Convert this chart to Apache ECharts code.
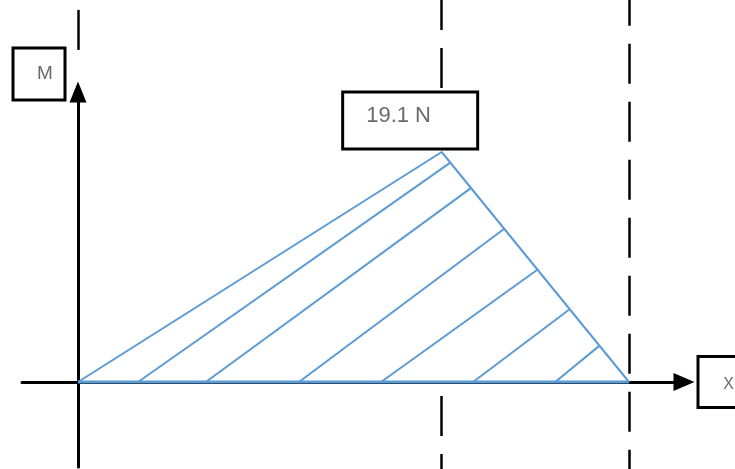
<!DOCTYPE html>
<html>
<head>
<meta charset="utf-8">
<script src="https://cdn.jsdelivr.net/npm/echarts@6/dist/echarts.min.js"></script>
<style>
  html, body { margin: 0; padding: 0; background: #fff; }
  #chart { width: 735px; height: 469px; }
</style>
</head>
<body>
<div id="chart"></div>
<script>
// moment diagram: span 0..10, peak under the middle support
var momentX = [0, 6.6, 10];
var momentY = [0, 19.1, 0];
var peakLabel = '19.1 N';
var axisNameY = 'M';
var axisNameX = 'X';

// hatch strokes: from the baseline up to the right-hand edge
var hatchStartX = [1.09, 2.32, 4.01, 5.50, 7.17, 8.66];
var hatchEndX = [6.75, 7.13, 7.73, 8.33, 8.91, 9.46];
var hatchEndY = [18.2, 16.1, 12.7, 9.3, 6.0, 3.0];

// dashed support lines
var guideX = [0, 6.6, 10];
var guideTop = [30.9, 32.55, 32.9];
var guideBottom = [27.4, -7.3, -7.3];

(function() {
  var blue = '#5b9bd5';
  var ink = '#000000';
  var textGray = '#6a6a6a';
  var font = 'Liberation Sans, Arial, sans-serif';

  var triangle = momentX.map(function(x, i) { return [x, momentY[i]]; });
  var baseline = [[momentX[0], 0], [momentX[momentX.length - 1], 0]];
  var hatch = hatchStartX.map(function(x, i) {
    return { coords: [[x, 0], [hatchEndX[i], hatchEndY[i]]] };
  });
  var guides = guideX.map(function(x, i) {
    return { coords: [[x, guideTop[i]], [x, guideBottom[i]]] };
  });
  var peakIndex = momentY.indexOf(Math.max.apply(null, momentY));

  var chart = echarts.init(document.getElementById('chart'), null, { renderer: 'canvas' });
  chart.setOption({
    animation: false,
    backgroundColor: '#fff',
    grid: { left: 22, right: 51, top: 92, bottom: 2, outerBoundsMode: 'none' },
    xAxis: {
      type: 'value',
      min: -1.0163,
      max: 10.998,
      name: '{b|' + axisNameX + '}',
      nameLocation: 'end',
      nameGap: 15.5,
      nameTextStyle: {
        align: 'left',
        verticalAlign: 'middle',
        rich: {
          b: {
            width: 58, height: 43, lineHeight: 43, align: 'center',
            padding: [5, 0, 0, 0],
            backgroundColor: '#fff', borderColor: ink, borderWidth: 3,
            fontSize: 16, color: textGray, fontFamily: font
          }
        }
      },
      axisLine: {
        onZero: true,
        symbol: ['none', 'triangle'],
        symbolSize: [18, 21],
        lineStyle: { color: ink, width: 3 }
      },
      axisTick: { show: false },
      axisLabel: { show: false },
      splitLine: { show: false }
    },
    yAxis: {
      type: 'value',
      min: -7.059,
      max: 24.083,
      name: '{b|' + axisNameY + '}{s| }',
      nameLocation: 'end',
      nameGap: 18,
      nameTextStyle: {
        align: 'right',
        verticalAlign: 'middle',
        rich: {
          b: {
            width: 37, height: 49, lineHeight: 49, align: 'center',
            padding: [0, 0, 0, 12],
            backgroundColor: '#fff', borderColor: ink, borderWidth: 3,
            fontSize: 19, color: textGray, fontFamily: font
          },
          s: { width: 14.5, fontSize: 10 }
        }
      },
      axisLine: {
        onZero: true,
        symbol: ['none', 'triangle'],
        symbolSize: [17, 21],
        lineStyle: { color: ink, width: 3 }
      },
      axisTick: { show: false },
      axisLabel: { show: false },
      splitLine: { show: false }
    },
    series: [
      {
        name: 'supports',
        type: 'lines',
        coordinateSystem: 'cartesian2d',
        clip: false,
        z: 1,
        lineStyle: { color: ink, width: 2.5, type: [40, 18], opacity: 1 },
        data: guides
      },
      {
        name: 'moment',
        type: 'line',
        z: 2,
        clip: false,
        symbol: 'none',
        lineStyle: { color: blue, width: 2 },
        areaStyle: { color: '#fff', opacity: 1 },
        data: triangle,
        markPoint: {
          symbol: 'rect',
          symbolSize: 0,
          data: [{ coord: triangle[peakIndex], value: peakLabel }],
          label: {
            show: true,
            formatter: peakLabel,
            position: 'inside',
            align: 'left',
            verticalAlign: 'top',
            offset: [-97.5, -58.5],
            width: 110,
            height: 22,
            lineHeight: 22,
            padding: [11, 0, 21, 22],
            backgroundColor: '#fff',
            borderColor: ink,
            borderWidth: 3,
            fontSize: 22,
            color: textGray,
            fontFamily: font
          }
        }
      },
      {
        name: 'hatch',
        type: 'lines',
        coordinateSystem: 'cartesian2d',
        z: 3,
        lineStyle: { color: blue, width: 2, opacity: 1 },
        data: hatch
      },
      {
        name: 'baseline',
        type: 'line',
        z: 4,
        symbol: 'none',
        lineStyle: { color: blue, width: 3 },
        data: baseline
      }
    ]
  });
  window.addEventListener('resize', function() { chart.resize(); });
})();
</script>
</body>
</html>
